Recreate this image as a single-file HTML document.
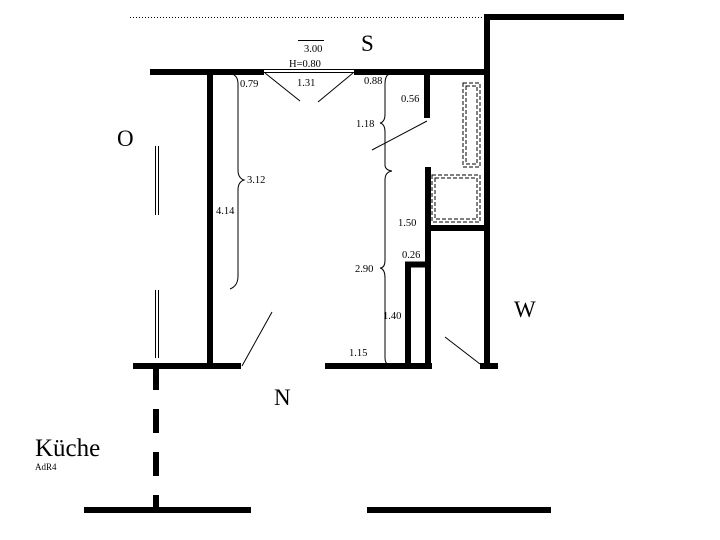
<!DOCTYPE html>
<html><head><style>body{margin:0;background:#fff}svg{display:block}text{font-family:"Liberation Serif",serif;fill:#000}</style></head><body>
<svg width="720" height="540" viewBox="0 0 720 540" xmlns="http://www.w3.org/2000/svg">
<line x1="130" y1="17.5" x2="485" y2="17.5" stroke="#000" stroke-width="1" stroke-dasharray="1,2"/>
<g stroke="#000" stroke-width="6" fill="none">
<line x1="484" y1="17" x2="624" y2="17"/>
<line x1="487" y1="14" x2="487" y2="369"/>
<line x1="150" y1="72" x2="264" y2="72"/>
<line x1="354" y1="72" x2="490" y2="72"/>
<line x1="210" y1="69" x2="210" y2="369"/>
<line x1="133" y1="366" x2="241" y2="366"/>
<line x1="427" y1="69" x2="427" y2="118"/>
<line x1="428" y1="167" x2="428" y2="369"/>
<line x1="425" y1="228" x2="490" y2="228"/>
<line x1="408" y1="262" x2="408" y2="366"/>
<line x1="405" y1="264.5" x2="430" y2="264.5"/>
<line x1="325" y1="366" x2="432" y2="366"/>
<line x1="480" y1="366" x2="498" y2="366"/>
<line x1="84" y1="510" x2="251" y2="510"/>
<line x1="367" y1="510" x2="551" y2="510"/>
<line x1="156" y1="366" x2="156" y2="510" stroke-dasharray="24,19"/>
</g>
<g stroke="#000" stroke-width="1" fill="none">
<line x1="264" y1="69.5" x2="354" y2="69.5"/>
<line x1="264" y1="72.5" x2="354" y2="72.5"/>
<line x1="298" y1="40.5" x2="324" y2="40.5"/>
<line x1="265" y1="73" x2="300" y2="101"/>
<line x1="353" y1="73" x2="318" y2="102"/>
<line x1="427" y1="121" x2="372" y2="150"/>
<line x1="272" y1="312" x2="242" y2="366"/>
<line x1="445" y1="337" x2="480" y2="364"/>
<line x1="155.5" y1="146" x2="155.5" y2="215"/><line x1="158.5" y1="146" x2="158.5" y2="215"/>
<line x1="155.5" y1="290" x2="155.5" y2="358"/><line x1="158.5" y1="290" x2="158.5" y2="358"/>
<path d="M232 74 Q238 76 238 84 L238 170 Q238 178 244 180 Q238 182 238 190 L238 276 Q238 286 230 289"/>
<path d="M389 74 Q385 76 385 84 L385 114 Q385 122 380 123 Q385 124 385 132 L385 165 Q385 170 392 171"/>
<path d="M392 171 Q385 172 385 180 L385 260 Q385 268 380 268 Q385 269 385 278 L385 358 Q385 364 390 366"/>
</g>
<g stroke="#000" stroke-width="1" fill="none" stroke-dasharray="4,2">
<rect x="463" y="83" width="17" height="84"/>
<rect x="466" y="86" width="11" height="78"/>
<rect x="432" y="175" width="48" height="47"/>
<rect x="435" y="178" width="42" height="41"/>
</g>
<g font-size="10.5">
<text x="304" y="52">3.00</text>
<text x="289" y="67">H=0.80</text>
<text x="297" y="86">1.31</text>
<text x="240" y="87">0.79</text>
<text x="364" y="84">0.88</text>
<text x="401" y="102">0.56</text>
<text x="356" y="127">1.18</text>
<text x="247" y="183">3.12</text>
<text x="216" y="214">4.14</text>
<text x="398" y="226">1.50</text>
<text x="402" y="258">0.26</text>
<text x="355" y="272">2.90</text>
<text x="383" y="319">1.40</text>
<text x="349" y="356">1.15</text>
<text x="35" y="470" font-size="9">AdR4</text>
</g>
<g font-size="23">
<text x="361" y="51">S</text>
<text x="117" y="146">O</text>
<text x="274" y="405">N</text>
<text x="514" y="317">W</text>
<text x="35" y="456" font-size="25">Küche</text>
</g>
</svg>
</body></html>
